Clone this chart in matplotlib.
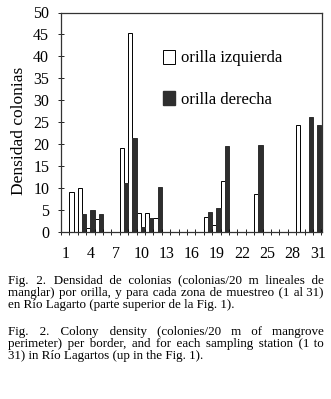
import matplotlib
matplotlib.use("Agg")
import matplotlib.pyplot as plt
from matplotlib.patches import Patch
import numpy as np

plt.rcParams['font.family'] = ['Liberation Serif', 'DejaVu Serif']

# sampling stations 1..31
stations = np.arange(1, 32)
# colony density, left bank (white) and right bank (dark)
izquierda = [9, 10, 1, 3, 0, 0, 19.2, 45.3, 4.3, 4.3, 3.1, 0, 0, 0, 0, 0,
             3.4, 1.6, 11.6, 0, 0, 0, 8.7, 0, 0, 0, 0, 24.3, 0, 0, 0]
derecha = [0, 4, 5, 4, 0, 0, 11.2, 21.3, 1.2, 3.1, 10.2, 0, 0, 0, 0, 0,
           4.5, 5.5, 19.7, 0, 0, 0, 19.8, 0, 0, 0, 0, 0, 26.3, 24.3, 0]
xlabels = [1, 4, 7, 10, 13, 16, 19, 22, 25, 28, 31]

caption_es = ["Fig. 2. Densidad de colonias (colonias/20 m lineales de",
              "manglar) por orilla, y para cada zona de muestreo (1 al 31)",
              "en Río Lagarto (parte superior de la Fig. 1)."]
caption_en = ["Fig. 2. Colony density (colonies/20 m of mangrove",
              "perimeter) per border, and for each sampling station (1 to",
              "31) in Río Lagartos (up in the Fig. 1)."]

W, H = 331, 399
fig = plt.figure(figsize=(W / 100, H / 100), dpi=100)
ax = fig.add_axes([61 / W, 1 - 232 / H, (322 - 61) / W, (232 - 12.5) / H])

dark = '#2e2e2e'
bw = 0.5
ax.bar(stations + 0.43, izquierda, width=bw, align='edge', color='white',
       edgecolor='black', linewidth=0.7)
ax.bar(stations + 0.93, derecha, width=bw, align='edge', color=dark,
       edgecolor=dark, linewidth=0.7)

ax.set_xlim(0.43, 31.5)
ax.set_ylim(0, 50)
ax.set_yticks(np.arange(0, 51, 5))
ax.set_xticks(xlabels)
ax.set_xticks(np.arange(0, 32) + 0.43, minor=True)
ax.tick_params(axis='x', which='major', length=0, pad=10, labelsize=11.5)
ax.tick_params(axis='x', which='minor', length=4, width=0.6, direction='inout')
ax.tick_params(axis='y', length=5, width=0.6, direction='inout', pad=6,
               labelsize=11.5)
for s in ax.spines.values():
    s.set_linewidth(0.9)
    s.set_color('#333333')

ax.set_ylabel('Densidad colonias', fontsize=12.5)
ax.yaxis.set_label_coords(-0.13, 0.46)

handles = [Patch(facecolor='white', edgecolor='black', linewidth=0.7),
           Patch(facecolor=dark, edgecolor=dark)]
ax.legend(handles, ['orilla izquierda', 'orilla derecha'], loc='upper left',
          bbox_to_anchor=(0.39, 0.83), frameon=False, fontsize=12,
          handlelength=0.75, handleheight=0.9, handletextpad=0.35,
          labelspacing=1.5, borderpad=0, borderaxespad=0)

# captions: justify lines by padding word gaps with hair spaces
r = fig.canvas.get_renderer()
x0, x1 = 7.5, 323.0
fs = 9.4
HAIR = '\u200a'


def width_px(s):
    t = fig.text(0, 0, s, fontsize=fs)
    w = t.get_window_extent(r).width
    t.remove()
    return w


hair_w = (width_px('a' + HAIR * 10 + 'a') - width_px('aa')) / 10


def justify(lines):
    out = []
    for i, line in enumerate(lines):
        if i == len(lines) - 1:
            out.append(line)
            continue
        words = line.split(' ')
        extra = (x1 - x0) - width_px(line)
        n = max(int(round(extra / hair_w)), 0)
        gaps = len(words) - 1
        s = words[0]
        for j, w in enumerate(words[1:]):
            k = n // gaps + (1 if j < n % gaps else 0)
            s += ' ' + HAIR * k + w
        out.append(s)
    return '\n'.join(out)


# anchored on the baseline of each block's last line
fig.text(x0 / W, 1 - 308 / H, justify(caption_es), fontsize=fs,
         va='baseline', ha='left', linespacing=0.99)
fig.text(x0 / W, 1 - 359 / H, justify(caption_en), fontsize=fs,
         va='baseline', ha='left', linespacing=0.99)

fig.savefig('out.png', dpi=100)
